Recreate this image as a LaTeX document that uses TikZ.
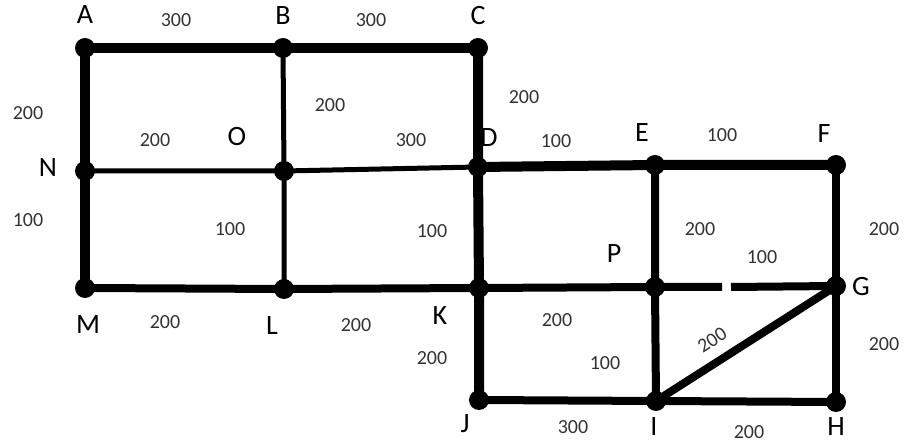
\documentclass[tikz,border=0pt]{standalone}
\usepackage{fontspec}
\setmainfont{Carlito}
\begin{document}
\begin{tikzpicture}[x=1pt,y=-1pt,
  dot/.style={circle,fill=black,inner sep=0pt,minimum size=20pt},
  thickline/.style={line width=10pt},
  midline/.style={line width=8pt},
  thinline/.style={line width=5pt},
  lbl/.style={font=\fontsize{28}{30}\selectfont,inner sep=0pt},
  num/.style={font=\fontsize{20}{22}\selectfont,text=black!80,inner sep=0pt}]
\useasboundingbox (0,0) rectangle (922,443);
% vertices
\node[dot] (A) at (85,48) {};
\node[dot] (B) at (283,48) {};
\node[dot] (C) at (478,48) {};
\node[dot] (N) at (85,171) {};
\node[dot] (O) at (284,171) {};
\node[dot] (D) at (478,167) {};
\node[dot] (E) at (655,165) {};
\node[dot] (F) at (836,165) {};
\node[dot] (M) at (85,288) {};
\node[dot] (L) at (284,289) {};
\node[dot] (K) at (479,288) {};
\node[dot] (P) at (655,287) {};
\node[dot] (G) at (836,286) {};
\node[dot] (J) at (479,400) {};
\node[dot] (I) at (656,401) {};
\node[dot] (H) at (836,402) {};
\coordinate (g1) at (722,287);
\coordinate (g2) at (731,287);
% edges
\draw[thickline] (A.center) -- (B.center) -- (C.center);
\draw[thickline] (A.center) -- (N.center) -- (M.center);
\draw[thickline] (C.center) -- (D.center) -- (K.center) -- (J.center);
\draw[thickline] (D.center) -- (E.center) -- (F.center);
\draw[thinline] (N.center) -- (O.center) -- (D.center);
\draw[thinline] (B.center) -- (O.center) -- (L.center);
\draw[midline] (M.center) -- (L.center) -- (K.center) -- (P.center) -- (g1);
\draw[midline] (g2) -- (G.center);
\draw[midline] (F.center) -- (G.center) -- (H.center);
\draw[midline] (E.center) -- (P.center) -- (I.center);
\draw[midline] (J.center) -- (I.center) -- (H.center);
\draw[midline] (I.center) -- (G.center);
% vertex letters
\node[lbl] (tA) at (85,15) {A};
\node[lbl] (tB) at (283,16) {B};
\node[lbl] (tC) at (478,16) {C};
\node[lbl] (tN) at (48,168) {N};
\node[lbl] (tO) at (237,137) {O};
\node[lbl] (tD) at (489,138) {D};
\node[lbl] (tE) at (642,133) {E};
\node[lbl] (tF) at (824,134) {F};
\node[lbl] (tM) at (88,325) {M};
\node[lbl] (tL) at (272,326) {L};
\node[lbl] (tK) at (440,316) {K};
\node[lbl] (tP) at (614,254) {P};
\node[lbl] (tG) at (861,287) {G};
\node[lbl] (tJ) at (465,424) {J};
\node[lbl] (tI) at (654,427) {I};
\node[lbl] (tH) at (836,427) {H};
% edge weights
\node[num] (w1) at (176,20) {300};
\node[num] (w2) at (371,20) {300};
\node[num] (w3) at (28,113) {200};
\node[num] (w4) at (155,140) {200};
\node[num] (w5) at (330,105) {200};
\node[num] (w6) at (411,140) {300};
\node[num] (w7) at (524,97) {200};
\node[num] (w8) at (556,141) {100};
\node[num] (w9) at (722,135) {100};
\node[num] (w10) at (28,220) {100};
\node[num] (w11) at (230,229) {100};
\node[num] (w12) at (432,231) {100};
\node[num] (w13) at (700,229) {200};
\node[num] (w14) at (762,257) {100};
\node[num] (w15) at (884,229) {200};
\node[num] (w16) at (165,322) {200};
\node[num] (w17) at (356,325) {200};
\node[num] (w18) at (557,320) {200};
\node[num] (w19) at (432,358) {200};
\node[num] (w20) at (605,363) {100};
\node[num,rotate=33] (w21) at (712,340) {200};
\node[num] (w22) at (884,344) {200};
\node[num] (w23) at (573,427) {300};
\node[num] (w24) at (749,432) {200};
\end{tikzpicture}
\end{document}
